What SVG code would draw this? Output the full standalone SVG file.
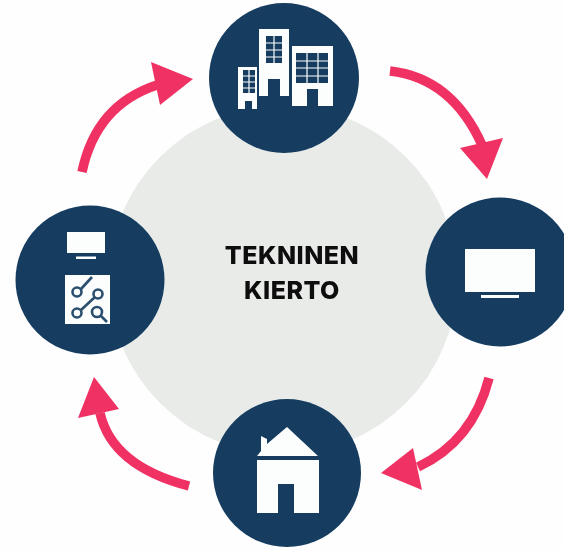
<svg xmlns="http://www.w3.org/2000/svg" width="564" height="550" viewBox="0 0 564 550">
<defs><filter id="soft" x="0" y="0" width="100%" height="100%"><feGaussianBlur stdDeviation="0.6"/></filter></defs>
<style>
.n{fill:#163e61}.w{fill:#fcfdfd}.a{fill:none;stroke:#ef3364;stroke-width:9.5}.h{fill:#ef3364}
.t{font:800 25px "Inter","Liberation Sans",sans-serif;letter-spacing:.5px;fill:#0c0c0c;text-anchor:middle}
</style>
<rect width="564" height="550" fill="#fefefe"/>
<g filter="url(#soft)">
<circle id="center" cx="283" cy="280" r="174" fill="#e9ebe9"/>
<g id="connectors">
<path class="a" d="M390 71Q452 78 482 145"/><path class="h" d="M460 148L503 138L487 179Z"/>
<path class="a" d="M489 378Q473 441 418 467"/><path class="h" d="M413 448L381 473L422 490Z"/>
<path class="a" d="M189 486Q112 466 100 413"/><path class="h" d="M94 377L78 418L119 409Z"/>
<path class="a" d="M82 172Q96 105 157 85"/><path class="h" d="M151 62L193 79L160 105Z"/>
</g>
<g id="buildings"><circle class="n" cx="284" cy="78" r="75"/>
<path class="w" d="M259 29H289V96H280V79H268V96H259Z"/>
<path class="w" d="M292 46H333V106H318V89H307V106H292Z"/>
<path class="w" d="M238 67H257V109H252V101H245V109H238Z"/>
<path class="n" d="M266 36H282V63H266ZM296 53H328V83H296ZM243 70H255V93H243Z"/>
<path d="M274 36V63M266 43H282M266 50H282M266 57H282M307 53V83M318 53V83M296 61H328M296 68H328M296 76H328M243 76H255M243 82H255M243 88H255M249 70V93" stroke="#fcfdfd" stroke-width="1.2"/>
</g>
<g id="tv"><circle class="n" cx="500" cy="272" r="74.5"/>
<rect class="w" x="465" y="249" width="70" height="43"/><rect class="w" x="481" y="295" width="38" height="3"/></g>
<g id="house"><circle class="n" cx="287" cy="473" r="74"/>
<path class="w" d="M257 456L261 451V436L267 439V444L287 427L318 456Z"/>
<path class="w" d="M257 460H319V513H294V484H278V513H257Z"/></g>
<g id="review"><circle class="n" cx="90" cy="280" r="74.5"/>
<rect class="w" x="67" y="232" width="38" height="21"/><rect class="w" x="76" y="256.500" width="20" height="2.500"/>
<rect class="w" x="65" y="275" width="45" height="49"/>
<g stroke="#2c4f6e" stroke-width="2.600" fill="none"><circle cx="77" cy="292" r="4.500"/><path d="M81 289L92 277"/><circle cx="98" cy="294" r="4.500"/><path d="M95 297L81 310"/><circle cx="77" cy="313" r="4.500"/><circle cx="97" cy="312" r="5"/><path d="M101 316L107 322"/></g></g>
<g id="title"><text class="t" x="292" y="264">TEKNINEN</text><text class="t" x="292" y="299">KIERTO</text></g>
</g>
</svg>
